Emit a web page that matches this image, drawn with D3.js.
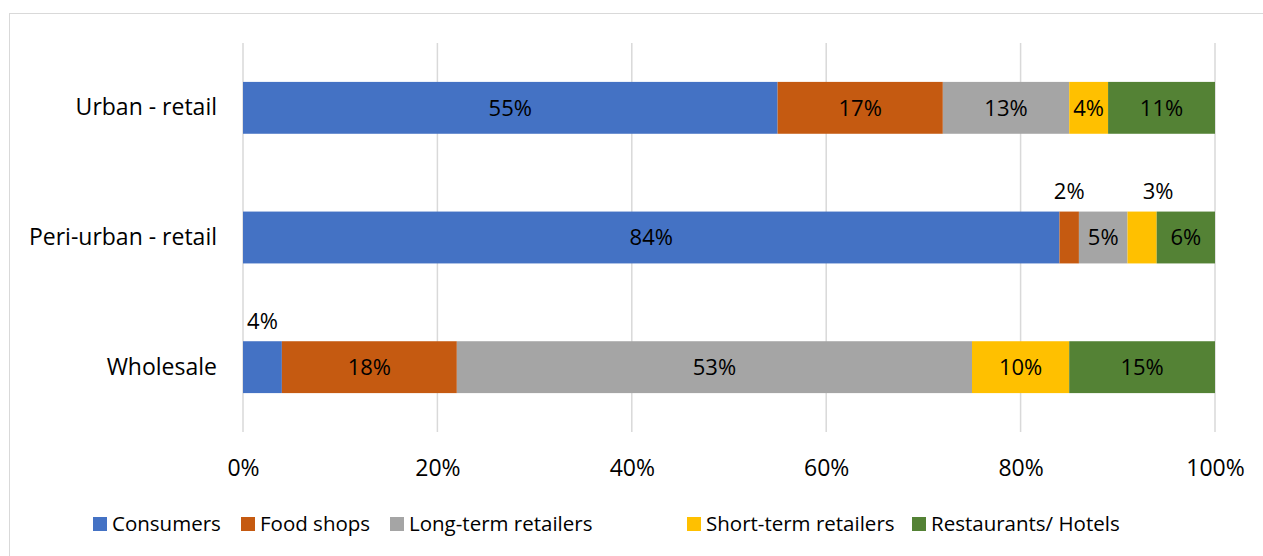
<!DOCTYPE html>
<html>
<head>
<meta charset="utf-8">
<script src="https://cdn.jsdelivr.net/npm/d3@7"></script>
<style>
  body { margin: 0; background: #fff; }
  text { font-family: "Open Sans", sans-serif; fill: #000; }
</style>
</head>
<body>
<div id="chart-area"></div>
<script>
const categories = ["Urban - retail", "Peri-urban - retail", "Wholesale"];
const seriesNames = ["Consumers", "Food shops", "Long-term retailers", "Short-term retailers", "Restaurants/ Hotels"];
const consumers = [55, 84, 4];
const foodShops = [17, 2, 18];
const longTerm = [13, 5, 53];
const shortTerm = [4, 3, 10];
const restaurants = [11, 6, 15];
const tickValues = [0, 20, 40, 60, 80, 100];
const colors = ["#4472C4", "#C55A11", "#A5A5A5", "#FFC000", "#548235"];

const width = 1263, height = 556;
const margin = {left: 243, right: 48, top: 43, bottom: 124};

const svg = d3.select("#chart-area").append("svg")
    .attr("width", width)
    .attr("height", height);

// chart frame
svg.append("rect")
    .attr("x", 9.5).attr("y", 13.5)
    .attr("width", 1260).attr("height", 560)
    .attr("fill", "none")
    .attr("stroke", "#d9d9d9");

const table = categories.map((c, i) => ({
    cat: c,
    "Consumers": consumers[i],
    "Food shops": foodShops[i],
    "Long-term retailers": longTerm[i],
    "Short-term retailers": shortTerm[i],
    "Restaurants/ Hotels": restaurants[i]
}));

const stack = d3.stack().keys(seriesNames);
const series = stack(table);

const x = d3.scaleLinear()
    .domain([0, 100])
    .range([margin.left, width - margin.right]);

const y = d3.scaleBand()
    .domain(categories)
    .range([margin.top, height - margin.bottom])
    .paddingInner(0.6)
    .paddingOuter(0.3);

// gridlines
svg.append("g")
    .selectAll("line")
    .data(tickValues).enter()
    .append("line")
        .attr("x1", d => x(d)).attr("x2", d => x(d))
        .attr("y1", margin.top).attr("y2", height - margin.bottom)
        .attr("stroke", "#d9d9d9")
        .attr("stroke-width", 1.5);

// x axis labels
const xAxis = svg.append("g")
    .attr("transform", `translate(0,${height - margin.bottom})`)
    .call(d3.axisBottom(x).tickValues(tickValues).tickFormat(d => d + "%").tickSize(0).tickPadding(28));
xAxis.select(".domain").remove();
xAxis.selectAll("text").attr("font-size", 23).attr("font-family", "Open Sans").attr("fill", "#000");

// y axis labels
const yAxis = svg.append("g")
    .attr("transform", `translate(${margin.left},0)`)
    .call(d3.axisLeft(y).tickSize(0).tickPadding(26));
yAxis.select(".domain").remove();
yAxis.selectAll("text").attr("font-size", 23).attr("font-family", "Open Sans").attr("fill", "#000");

// bars
const groups = svg.append("g")
    .selectAll("g")
    .data(series).enter()
    .append("g")
        .attr("fill", (d, i) => colors[i]);

groups.selectAll("rect")
    .data(d => d).enter()
    .append("rect")
        .attr("x", d => x(d[0]))
        .attr("y", d => y(d.data.cat))
        .attr("width", d => x(d[1]) - x(d[0]))
        .attr("height", y.bandwidth());

// data labels
const labelShift = {"Short-term retailers|Peri-urban - retail": 16};
groups.selectAll("text")
    .data(d => d.map(p => ({p: p, key: d.key}))).enter()
    .append("text")
        .attr("x", d => (x(d.p[0]) + x(d.p[1])) / 2 + (labelShift[d.key + "|" + d.p.data.cat] || 0))
        .attr("y", d => {
            const v = d.p[1] - d.p[0];
            return v < 4.5 && !(v === 4 && d.key === "Short-term retailers") ? y(d.p.data.cat) - 20 : y(d.p.data.cat) + y.bandwidth() / 2;
        })
        .attr("dy", "0.35em")
        .attr("text-anchor", "middle")
        .attr("font-size", 22)
        .text(d => (d.p[1] - d.p[0]) + "%");

// legend
const legend = svg.append("g")
    .attr("transform", "translate(93,517)");
const legendX = [0, 148, 297, 594, 819];
const items = legend.selectAll("g")
    .data(seriesNames).enter()
    .append("g")
        .attr("transform", (d, i) => `translate(${legendX[i]},0)`);
items.append("rect")
    .attr("width", 14).attr("height", 14)
    .attr("fill", (d, i) => colors[i]);
items.append("text")
    .attr("x", 19).attr("y", 7)
    .attr("dy", "0.35em")
    .attr("font-size", 20.5)
    .text(d => d);
</script>
</body>
</html>
